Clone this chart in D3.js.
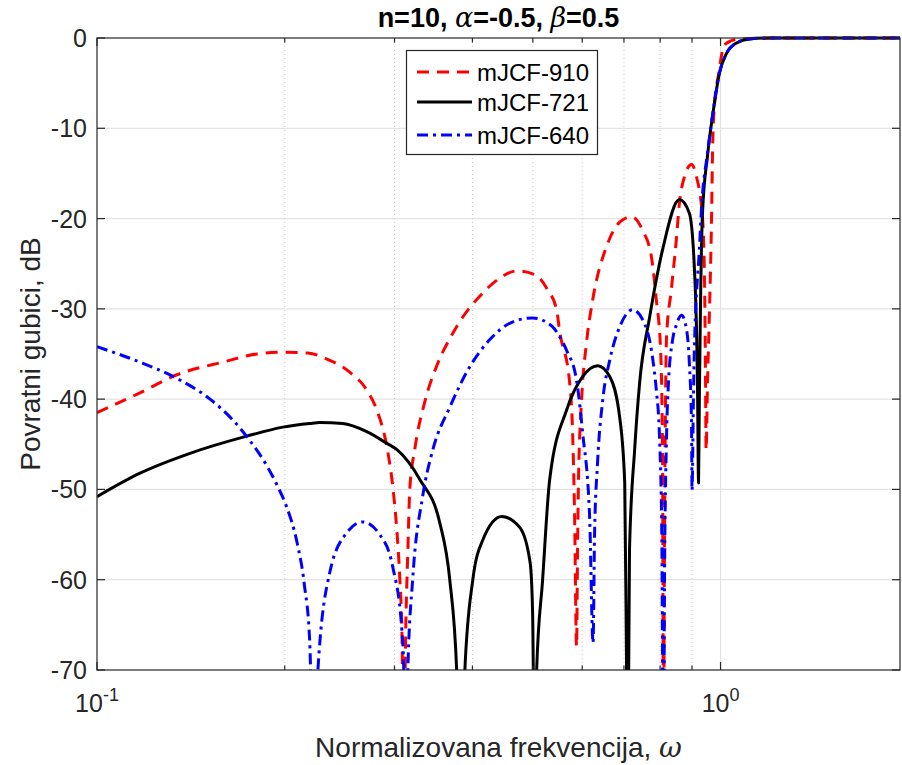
<!DOCTYPE html>
<html>
<head>
<meta charset="utf-8">
<script src="https://cdn.jsdelivr.net/npm/d3@7"></script>
<style>
  html, body { margin: 0; padding: 0; background: #fff; }
  svg { display: block; font-family: "Liberation Sans", Arial, Helvetica, sans-serif; }
</style>
</head>
<body>
<svg id="chart" width="902" height="765"></svg>
<script>
// ---------------- data (omega, dB) ----------------
const seriesNames = ["mJCF-910", "mJCF-721", "mJCF-640"];

const red910 = [
  [0.1000,-41.5],[0.1172,-39.3],[0.1343,-37.3],[0.1592,-35.9],[0.1805,-35.0],[0.1987,-34.8],
  [0.2178,-34.9],[0.2362,-35.7],[0.2542,-37.0],[0.2708,-39.0],[0.2810,-41.2],[0.2917,-45.3],
  [0.2981,-49.7],[0.3026,-54.5],[0.3060,-60.0],[0.3083,-65.6],[0.3105,-80],[0.3128,-65.0],
  [0.3151,-57.0],[0.3174,-50.0],[0.3234,-45.5],[0.3355,-40.3],[0.3507,-36.3],[0.3700,-33.0],
  [0.3861,-30.9],[0.4110,-28.6],[0.4426,-26.6],[0.4710,-25.8],[0.5035,-26.2],[0.5282,-27.9],
  [0.5458,-30.1],[0.5521,-32.5],[0.5728,-38.2],[0.5791,-43.7],[0.5834,-53.0],[0.5876,-67.4],
  [0.5899,-56.0],[0.5920,-48.5],[0.5987,-40.0],[0.6097,-33.7],[0.6237,-29.0],[0.6572,-23.0],
  [0.6890,-20.4],[0.7199,-19.8],[0.7499,-21.3],[0.7750,-24.3],[0.7889,-29.0],[0.8015,-34.6],
  [0.8071,-45.6],[0.8101,-80],[0.8131,-55.0],[0.8162,-40.0],[0.8193,-33.1],[0.8337,-27.9],
  [0.8492,-22.4],[0.8590,-18.3],[0.8750,-15.4],[0.8985,-14.0],[0.9152,-15.4],[0.9354,-19.8],
  [0.9427,-27.1],[0.9462,-38.2],[0.9480,-45.6],[0.9532,-38.0],[0.9594,-30.9],[0.9674,-19.8],
  [0.9710,-12.4],[0.9772,-7.6],[0.9927,-4.0],[1.0138,-0.8],[1.0413,-0.3],[1.0726,-0.1],
  [1.2,0],[1.94,0]
];

const black721 = [
  [0.1000,-50.8],[0.1172,-48.2],[0.1410,-46.0],[0.1739,-44.1],[0.1987,-43.1],[0.2194,-42.7],
  [0.2277,-42.6],[0.2477,-42.7],[0.2708,-43.6],[0.2917,-44.9],[0.3027,-45.6],[0.3294,-48.9],
  [0.3546,-53.7],[0.3679,-60.0],[0.3775,-70.2],[0.3832,-85],[0.3889,-70.2],[0.4006,-60.0],
  [0.4156,-55.6],[0.4458,-53.0],[0.4764,-54.2],[0.4950,-58.1],[0.4996,-63.7],[0.5035,-85],
  [0.5070,-70.2],[0.5184,-60.0],[0.5321,-48.9],[0.5664,-41.2],[0.6009,-37.5],[0.6353,-36.3],
  [0.6641,-37.5],[0.6890,-42.0],[0.7020,-49.3],[0.7066,-69.2],[0.7097,-85],[0.7145,-56.7],
  [0.7282,-45.6],[0.7417,-38.2],[0.7697,-30.9],[0.8070,-23.5],[0.8590,-17.9],[0.8912,-19.4],
  [0.9078,-25.4],[0.9183,-38.2],[0.9220,-49.3],[0.9247,-40.0],[0.9289,-29.0],[0.9354,-19.5],
  [0.9532,-13.0],[0.9772,-7.3],[0.9958,-3.9],[1.0224,-1.7],[1.0606,-0.55],[1.113,-0.1],
  [1.2,0],[1.94,0]
];

const blue640 = [
  [0.1000,-34.2],[0.1172,-35.9],[0.1343,-37.7],[0.1518,-40.0],[0.1651,-42.3],[0.1759,-44.6],
  [0.1873,-47.4],[0.1950,-49.7],[0.2016,-52.0],[0.2092,-55.8],[0.2150,-60.5],[0.2194,-67.0],
  [0.2227,-85],[0.2260,-70.2],[0.2362,-59.2],[0.2515,-54.8],[0.2667,-53.6],[0.2841,-55.0],
  [0.2981,-58.6],[0.3083,-65.6],[0.3105,-70.2],[0.3128,-85],[0.3151,-70.2],[0.3208,-60.0],
  [0.3328,-50.8],[0.3456,-45.6],[0.3679,-40.9],[0.3962,-36.4],[0.4266,-33.4],[0.4590,-31.6],
  [0.4996,-31.0],[0.5380,-32.0],[0.5521,-33.1],[0.5664,-34.6],[0.5876,-37.9],[0.6009,-43.7],
  [0.6166,-53.0],[0.6245,-67.0],[0.6280,-55.0],[0.6350,-47.0],[0.6472,-40.1],[0.6641,-35.7],
  [0.6890,-32.0],[0.7227,-30.1],[0.7499,-31.2],[0.7783,-35.5],[0.7889,-39.0],[0.7980,-44.0],
  [0.8050,-55.0],[0.8101,-85],[0.8131,-60.0],[0.8193,-44.0],[0.8254,-38.0],[0.8375,-33.5],
  [0.8492,-31.8],[0.8660,-30.7],[0.8821,-32.3],[0.8912,-36.0],[0.8985,-43.0],[0.9000,-50.1],
  [0.9047,-40.0],[0.9078,-34.6],[0.9247,-23.5],[0.9325,-18.7],[0.9532,-12.7],[0.9772,-7.2],
  [0.9958,-3.9],[1.0224,-1.7],[1.0606,-0.55],[1.113,-0.1],[1.2,0],[1.94,0]
];

const yTicks = [0,-10,-20,-30,-40,-50,-60,-70];
const xMajorTicks = [0.1, 1];
const xMajorExp = ["-1", "0"];
const xMinorTicks = [0.2,0.3,0.4,0.5,0.6,0.7,0.8,0.9];

// ---------------- layout ----------------
const svg = d3.select("#chart");
const L = 97, R = 900, T = 38, B = 670;
const x = d3.scaleLog().domain([0.1, 1.94]).range([L, R]);
const y = d3.scaleLinear().domain([-70, 0]).range([B, T]);
const axisColor = "#262626";

// grid
const grid = svg.append("g");
grid.selectAll(".hg").data(yTicks.filter(d => d !== 0 && d !== -70)).enter().append("line")
  .attr("x1", L).attr("x2", R).attr("y1", d => y(d)).attr("y2", d => y(d))
  .attr("stroke", "#e3e3e3").attr("stroke-width", 1.2);
grid.selectAll(".vmg").data(xMinorTicks).enter().append("line")
  .attr("x1", d => x(d)).attr("x2", d => x(d)).attr("y1", T).attr("y2", B)
  .attr("stroke", "#c8c8c8").attr("stroke-width", 1).attr("stroke-dasharray", "1,3");
grid.selectAll(".vg").data(xMajorTicks.filter(d => d !== 0.1)).enter().append("line")
  .attr("x1", d => x(d)).attr("x2", d => x(d)).attr("y1", T).attr("y2", B)
  .attr("stroke", "#e3e3e3").attr("stroke-width", 1.2);

// clip
svg.append("defs").append("clipPath").attr("id", "clip")
  .append("rect").attr("x", L).attr("y", T - 2).attr("width", R - L).attr("height", B - T + 2);

const line = d3.line().x(d => x(d[0])).y(d => y(d[1])).curve(d3.curveMonotoneX);

const styles = [
  { data: red910,   color: "#ff0000", dash: "12,8" },
  { data: black721, color: "#000000", dash: null },
  { data: blue640,  color: "#0000ff", dash: "11,5,3,5" }
];

const plot = svg.append("g").attr("clip-path", "url(#clip)");
styles.forEach(s => {
  plot.append("path").datum(s.data)
    .attr("d", line).attr("fill", "none")
    .attr("stroke", s.color).attr("stroke-width", 3)
    .attr("stroke-linejoin", "round")
    .attr("stroke-dasharray", s.dash);
});

// axes box
const ax = svg.append("g");
ax.append("rect").attr("x", L).attr("y", T).attr("width", R - L).attr("height", B - T)
  .attr("fill", "none").attr("stroke", axisColor).attr("stroke-width", 1.2);

// y ticks (left and right)
yTicks.forEach(v => {
  ax.append("line").attr("x1", L).attr("x2", L + 8).attr("y1", y(v)).attr("y2", y(v)).attr("stroke", axisColor).attr("stroke-width", 1.2);
  ax.append("line").attr("x1", R).attr("x2", R - 8).attr("y1", y(v)).attr("y2", y(v)).attr("stroke", axisColor).attr("stroke-width", 1.2);
});
ax.selectAll(".yl").data(yTicks).enter().append("text")
  .attr("x", L - 10).attr("y", d => y(d)).attr("dy", "0.36em")
  .attr("text-anchor", "end").attr("font-size", 25).attr("fill", axisColor)
  .text(d => d === 0 ? "0" : "-" + Math.abs(d));

// x ticks (bottom and top)
xMajorTicks.forEach(v => {
  ax.append("line").attr("x1", x(v)).attr("x2", x(v)).attr("y1", B).attr("y2", B - 8).attr("stroke", axisColor).attr("stroke-width", 1.2);
  ax.append("line").attr("x1", x(v)).attr("x2", x(v)).attr("y1", T).attr("y2", T + 8).attr("stroke", axisColor).attr("stroke-width", 1.2);
});
xMinorTicks.forEach(v => {
  ax.append("line").attr("x1", x(v)).attr("x2", x(v)).attr("y1", B).attr("y2", B - 4.5).attr("stroke", axisColor).attr("stroke-width", 1.2);
  ax.append("line").attr("x1", x(v)).attr("x2", x(v)).attr("y1", T).attr("y2", T + 4.5).attr("stroke", axisColor).attr("stroke-width", 1.2);
});
xMajorTicks.forEach((v, i) => {
  const t = ax.append("text").attr("x", x(v)).attr("y", B + 42)
    .attr("text-anchor", "middle").attr("font-size", 25).attr("fill", axisColor);
  t.append("tspan").text("10");
  t.append("tspan").attr("font-size", 18).attr("dy", -11).text(xMajorExp[i]);
});

// labels
svg.append("text").attr("x", (L + R) / 2).attr("y", 757)
  .attr("text-anchor", "middle").attr("font-size", 28).attr("fill", axisColor)
  .call(t => {
    t.append("tspan").text("Normalizovana frekvencija, ");
    t.append("tspan").attr("font-family", "DejaVu Serif").attr("font-style", "italic").text("ω");
  });

svg.append("text").attr("transform", `translate(40,${(T + B) / 2}) rotate(-90)`)
  .attr("text-anchor", "middle").attr("font-size", 28).attr("fill", axisColor)
  .text("Povratni gubici, dB");

svg.append("text").attr("x", (L + R) / 2).attr("y", 27)
  .attr("text-anchor", "middle").attr("font-size", 27).attr("font-weight", "bold").attr("fill", "#000")
  .call(t => {
    t.append("tspan").text("n=10, ");
    t.append("tspan").attr("font-family", "DejaVu Serif").attr("font-style", "italic").attr("font-weight", "normal").text("α");
    t.append("tspan").text("=-0.5, ");
    t.append("tspan").attr("font-family", "DejaVu Serif").attr("font-style", "italic").attr("font-weight", "normal").text("β");
    t.append("tspan").text("=0.5");
  });

// legend
const lg = svg.append("g");
lg.append("rect").attr("x", 406.5).attr("y", 50.5).attr("width", 191).attr("height", 104)
  .attr("fill", "#fff").attr("stroke", axisColor).attr("stroke-width", 1.2);
const rowsY = [72, 102, 135];
styles.forEach((s, i) => {
  lg.append("line").attr("x1", 417).attr("x2", 472).attr("y1", rowsY[i]).attr("y2", rowsY[i])
    .attr("stroke", s.color).attr("stroke-width", 3).attr("stroke-dasharray", s.dash);
  lg.append("text").attr("x", 477).attr("y", rowsY[i]).attr("dy", "0.36em")
    .attr("font-size", 24).attr("fill", "#000").text(seriesNames[i]);
});
</script>
</body>
</html>
